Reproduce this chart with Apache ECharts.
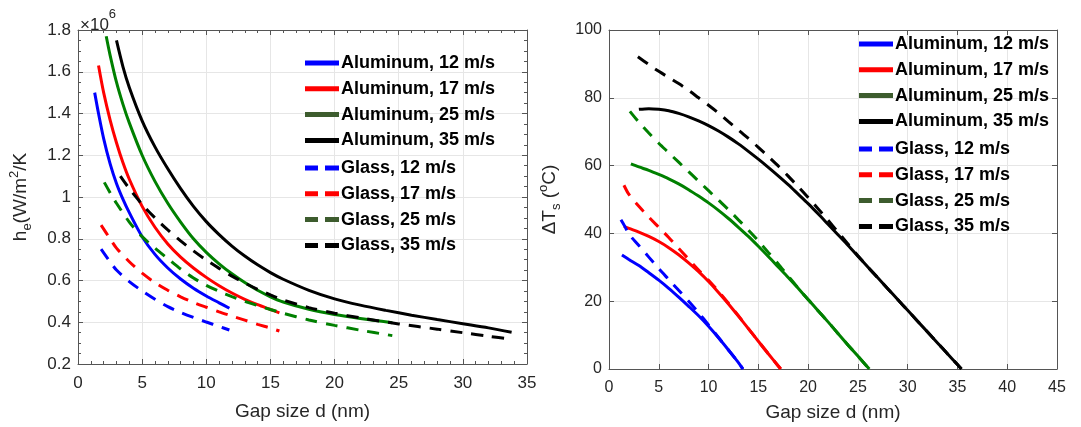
<!DOCTYPE html>
<html>
<head>
<meta charset="utf-8">
<script src="https://cdn.jsdelivr.net/npm/echarts@6/dist/echarts.min.js"></script>
<style>
  html, body { margin: 0; padding: 0; background: #fff; }
  #chart { width: 1081px; height: 427px; }
</style>
</head>
<body>
<div id="chart"></div>
<script>
// series names (shared by both panels)
const names = ['Aluminum, 12 m/s', 'Aluminum, 17 m/s', 'Aluminum, 25 m/s', 'Aluminum, 35 m/s',
               'Glass, 12 m/s', 'Glass, 17 m/s', 'Glass, 25 m/s', 'Glass, 35 m/s'];
const colors = ['#0000ff', '#ff0000', '#008000', '#000000'];

// left panel: h_e (x10^6 W/m2/K) vs gap size d (nm)
const heAl12 = [[1.3,1.50],[1.6,1.40],[2,1.28],[2.5,1.16],[3,1.065],[3.5,0.99],[4,0.925],[5,0.81],[6,0.725],[7,0.66],[8,0.607],[9,0.563],[10,0.526],[11,0.493],[11.8,0.467]];
const heAl17 = [[1.6,1.63],[2,1.50],[2.5,1.37],[3,1.26],[3.5,1.165],[4,1.085],[5,0.955],[6,0.855],[7,0.775],[8,0.712],[9,0.66],[10,0.615],[11,0.575],[12,0.54],[13,0.51],[14,0.484],[15,0.461],[15.7,0.445]];
const heAl25 = [[2.2,1.77],[2.5,1.68],[3,1.55],[3.5,1.445],[4,1.355],[5,1.2],[6,1.075],[7,0.97],[8,0.88],[9,0.80],[10,0.735],[11,0.68],[12,0.632],[13,0.59],[14,0.553],[15,0.522],[16,0.497],[18,0.462],[20,0.437],[22,0.418],[24.5,0.398]];
const heAl35 = [[3,1.75],[3.5,1.625],[4,1.525],[5,1.365],[6,1.24],[7,1.135],[8,1.04],[9,0.955],[10,0.882],[11,0.82],[12,0.765],[13,0.717],[14,0.675],[15,0.638],[16,0.606],[18,0.553],[20,0.512],[22,0.482],[24,0.457],[26,0.434],[28,0.413],[30,0.393],[32,0.373],[33.8,0.352]];
const heGl12 = [[1.8,0.75],[2.5,0.69],[3,0.65],[4,0.595],[5,0.55],[6,0.51],[7,0.475],[8,0.447],[9,0.423],[10,0.401],[11,0.38],[11.8,0.363]];
const heGl17 = [[1.8,0.865],[2.5,0.80],[3,0.755],[4,0.69],[5,0.635],[6,0.59],[7,0.553],[8,0.522],[9,0.495],[10,0.472],[11,0.45],[12,0.43],[13,0.41],[14,0.39],[15,0.372],[15.7,0.358]];
const heGl25 = [[2.05,1.07],[2.6,1.01],[3,0.97],[4,0.88],[5,0.81],[6,0.755],[7,0.705],[8,0.655],[9,0.612],[10,0.577],[11,0.548],[12,0.523],[13,0.5],[14,0.48],[15,0.461],[16,0.443],[18,0.411],[20,0.385],[22,0.362],[24.5,0.336]];
const heGl35 = [[3.3,1.10],[4,1.04],[5,0.965],[6,0.9],[7,0.842],[8,0.79],[9,0.742],[10,0.698],[11,0.658],[12,0.621],[13,0.588],[14,0.558],[15,0.531],[16,0.507],[18,0.47],[20,0.443],[22,0.421],[25,0.392],[28,0.367],[30,0.35],[32,0.333],[33.8,0.318]];

// right panel: delta T_s (degC) vs gap size d (nm)
const dtAl12 = [[1.3,33.6],[2,32.3],[3,30.5],[4,28.4],[5,26.2],[6,23.8],[7,21.2],[8,18.5],[9,15.7],[10,12.6],[11,9.2],[12,5.6],[13,1.9],[13.45,0]];
const dtAl17 = [[1.5,42.1],[2,41.5],[3,40.4],[4,39.1],[5,37.6],[6,35.8],[7,33.7],[8,31.3],[9,28.7],[10,25.8],[11,22.6],[12,19.2],[13,15.6],[14,11.9],[15,8.2],[16,4.5],[17,0.9],[17.25,0]];
const dtAl25 = [[2.2,60.5],[3,59.6],[4,58.6],[5,57.4],[6,56.1],[7,54.6],[8,52.9],[9,51],[10,49],[11,46.8],[12,44.4],[13,41.8],[14,39.1],[15,36.2],[16,33.2],[17,30.1],[18,27],[19,23.8],[20,20.5],[21,17.2],[22,13.9],[23,10.5],[24,7.1],[25,3.8],[26.15,0]];
const dtAl35 = [[3,76.6],[4,76.8],[5,76.6],[6,76.2],[7,75.4],[8,74.4],[9,73.2],[10,71.8],[11,70.2],[12,68.4],[13,66.4],[14,64.2],[15,61.9],[16,59.5],[17,57],[18,54.4],[19,51.6],[20,48.8],[21,45.8],[22,42.7],[23,39.6],[24,36.5],[25,33.3],[26,30.1],[27,26.9],[28,23.7],[29,20.5],[30,17.3],[31,14.1],[32,10.9],[33,7.7],[34,4.5],[35,1.3],[35.4,0]];
const dtGl12 = [[1.2,44],[1.6,42],[2,39.8],[3,36.4],[4,33],[5,29.6],[6,26.4],[7,23.2],[8,20],[9,16.6],[10,13],[11,9.3],[12,5.6],[13,1.9],[13.45,0]];
const dtGl17 = [[1.5,54.2],[2,51.5],[3,48],[4,44.8],[5,41.8],[6,38.8],[7,35.6],[8,32.4],[9,29.2],[10,26.2],[11,22.9],[12,19.4],[13,15.7],[14,11.9],[15,8.2],[16,4.5],[17,0.9],[17.25,0]];
const dtGl25 = [[2.1,76],[3,72.8],[4,69.6],[5,66.6],[6,63.8],[7,61],[8,58.2],[9,55.4],[10,52.6],[11,49.8],[12,47],[13,44],[14,41],[15,37.8],[16,34.4],[17,31],[18,27.4],[19,23.9],[20,20.5],[21,17.2],[22,13.9],[23,10.5],[24,7.1],[25,3.8],[26.15,0]];
const dtGl35 = [[2.9,92.1],[4,89.8],[5,87.8],[6,86],[7,84.2],[8,82.2],[9,80],[10,77.8],[11,75.5],[12,73],[13,70.5],[14,68],[15,65.4],[16,62.7],[17,59.9],[18,56.9],[19,53.8],[20,50.6],[21,47.3],[22,43.9],[23,40.4],[24,36.9],[25,33.4],[26,30.1],[27,26.9],[28,23.7],[29,20.5],[30,17.3],[31,14.1],[32,10.9],[33,7.7],[34,4.5],[35,1.3],[35.4,0]];

const heData = [heAl12, heAl17, heAl25, heAl35, heGl12, heGl17, heGl25, heGl35];
const dtData = [dtAl12, dtAl17, dtAl25, dtAl35, dtGl12, dtGl17, dtGl25, dtGl35];

const font = 'Liberation Sans, Arial, sans-serif';
const txt = '#262626';
const axCol = '#555';

function axis(grid, pos, min, max, step, opts) {
  const main = pos === 'bottom' || pos === 'left';
  return Object.assign({
    gridIndex: grid,
    type: 'value',
    position: pos,
    min: min, max: max, interval: step,
    axisLine: { show: true, onZero: false, lineStyle: { color: axCol, width: 1 } },
    axisTick: { show: true, inside: true, length: 5, lineStyle: { color: axCol } },
    axisLabel: { show: main, color: txt, fontFamily: font, fontSize: 16, margin: 10 },
    splitLine: { show: main, lineStyle: { color: '#e6e6e6', width: 1 } }
  }, opts || {});
}

function minor(n) {
  return { minorTick: { show: true, splitNumber: n, length: 3, lineStyle: { color: axCol } } };
}

const nameStyle = { fontFamily: font, fontSize: 19, color: txt };
const richName = {
  a: { fontFamily: font, fontSize: 19, color: txt, lineHeight: 26 },
  b: { fontFamily: font, fontSize: 13, color: txt, lineHeight: 12, verticalAlign: 'bottom' },
  c: { fontFamily: font, fontSize: 13, color: txt, lineHeight: 12, verticalAlign: 'top' }
};

const xAxes = [
  axis(0, 'bottom', 0, 35, 5, Object.assign(minor(5), {
    name: 'Gap size d (nm)', nameLocation: 'middle', nameGap: 38, nameTextStyle: nameStyle,
    axisLabel: { color: txt, fontFamily: font, fontSize: 17, margin: 11 } })),
  axis(0, 'top', 0, 35, 5, minor(5)),
  axis(1, 'bottom', 0, 45, 5, {
    name: 'Gap size d (nm)', nameLocation: 'middle', nameGap: 34, nameTextStyle: nameStyle,
    axisLabel: { color: txt, fontFamily: font, fontSize: 16, margin: 11 } }),
  axis(1, 'top', 0, 45, 5)
];

const yAxes = [
  axis(0, 'left', 0.2, 1.8, 0.2, Object.assign(minor(4), {
    name: '{a|h}{b|e}{a|(W/m}{c|2}{a|/K}', nameLocation: 'middle', nameGap: 44, nameRotate: 90,
    nameTextStyle: Object.assign({}, nameStyle, { rich: richName }),
    axisLabel: { color: txt, fontFamily: font, fontSize: 17, margin: 7 } })),
  axis(0, 'right', 0.2, 1.8, 0.2, minor(4)),
  axis(1, 'left', 0, 100, 20, {
    name: '{a|\u0394T}{b|s}{a| (}{c|o}{a|C)}', nameLocation: 'middle', nameGap: 46, nameRotate: 90,
    nameTextStyle: Object.assign({}, nameStyle, { rich: richName }),
    axisLabel: { color: txt, fontFamily: font, fontSize: 16, margin: 7 } }),
  axis(1, 'right', 0, 100, 20)
];

const series = [];
[heData, dtData].forEach(function (set, g) {
  set.forEach(function (pts, i) {
    const glass = i >= 4;
    series.push({
      name: names[i],
      type: 'line',
      xAxisIndex: g * 2,
      yAxisIndex: g * 2,
      data: pts,
      symbol: 'none',
      smooth: 0.3,
      lineStyle: { color: colors[i % 4], width: 3, type: glass ? [12, 9] : 'solid' },
      itemStyle: { color: colors[i % 4] },
      z: 2 + i
    });
  });
});

// legend icons: thick solid bar, or two dashes for the glass series
const solidIcon = 'path://M0,0h34v5h-34z';
const dashIcon = 'path://M0,0h13v5h-13z M20,0h14v5h-14z';
const olive = '#3d5c2e';
function legendData(list) {
  return list.map(function (n) {
    const item = { name: n, icon: n.indexOf('Glass') === 0 ? dashIcon : solidIcon };
    if (n.indexOf('25 m/s') > 0) item.itemStyle = { color: olive };
    return item;
  });
}
function legend(list, left, top) {
  return {
    data: legendData(list),
    orient: 'vertical',
    left: left, top: top,
    itemWidth: 34, itemHeight: 5, itemGap: 7.8,
    padding: 0,
    textStyle: { fontFamily: font, fontSize: 18, fontWeight: 'bold', color: '#000', padding: [0, 0, 0, -3] },
    selectedMode: false
  };
}

const option = {
  animation: false,
  backgroundColor: '#fff',
  grid: [
    { left: 78, top: 30, width: 449, height: 334 },
    { left: 609, top: 30, width: 448, height: 339 }
  ],
  xAxis: xAxes,
  yAxis: yAxes,
  legend: [
    legend(names.slice(0, 4), 305, 54),
    legend(names.slice(4), 305, 159),
    legend(names.slice(0, 4), 859, 35),
    legend(names.slice(4), 859, 140)
  ],
  graphic: [{
    type: 'text', left: 80, top: 8,
    style: {
      text: '{a|\u00d710}{c|6}',
      rich: {
        a: { fontFamily: font, fontSize: 17, fill: txt, lineHeight: 26, verticalAlign: 'bottom' },
        c: { fontFamily: font, fontSize: 13, fill: txt, lineHeight: 18, verticalAlign: 'top' }
      }
    }
  }],
  series: series
};

const chart = echarts.init(document.getElementById('chart'));
chart.setOption(option);
window.onresize = function () { chart.resize(); };
</script>
</body>
</html>
